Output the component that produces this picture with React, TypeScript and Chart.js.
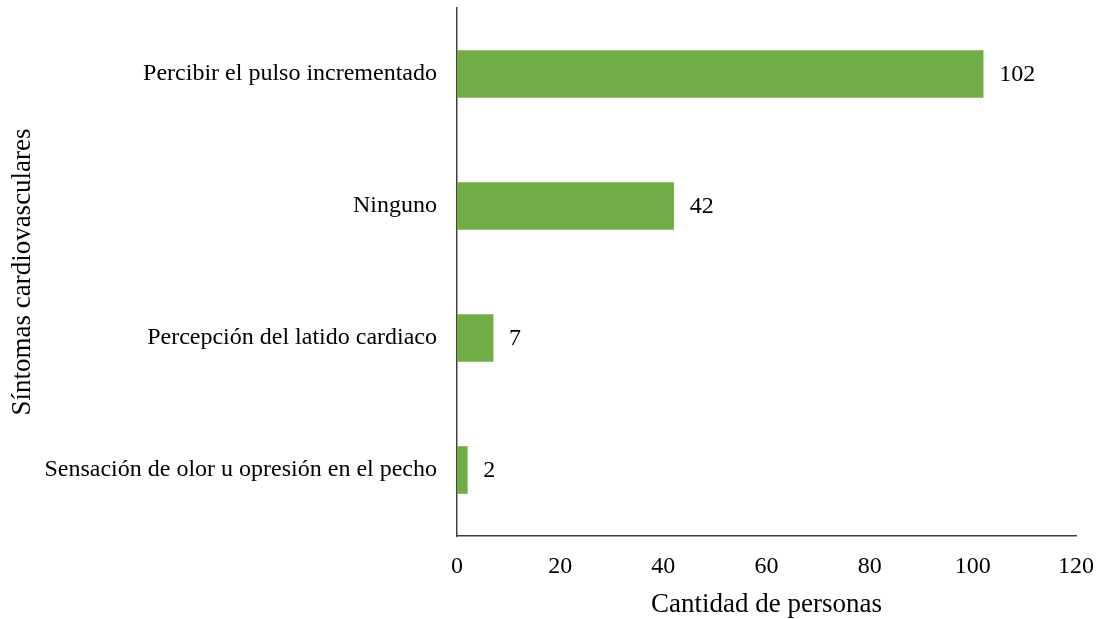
import React, { useEffect, useRef } from "react";
import { Chart, registerables } from "chart.js";

Chart.register(...registerables);

const categories = [
  "Percibir el pulso incrementado",
  "Ninguno",
  "Percepción del latido cardiaco",
  "Sensación de olor u opresión en el pecho",
];
const values = [102, 42, 7, 2];
const xTicks = [0, 20, 40, 60, 80, 100, 120];
const xTitle = "Cantidad de personas";
const yTitle = "Síntomas cardiovasculares";

const FONT = "'Liberation Serif', 'Times New Roman', serif";

const valueLabels = {
  id: "valueLabels",
  afterDatasetsDraw(chart: any) {
    const ctx = chart.ctx;
    const meta = chart.getDatasetMeta(0);
    ctx.save();
    ctx.font = `24px ${FONT}`;
    ctx.fillStyle = "#000";
    ctx.textAlign = "left";
    ctx.textBaseline = "middle";
    meta.data.forEach((bar: any, i: number) => {
      ctx.fillText(String(values[i]), bar.x + 16, bar.y + 1);
    });
    ctx.restore();
  },
};

export default function App() {
  const ref = useRef<HTMLCanvasElement>(null);
  useEffect(() => {
    document.body.style.margin = "0";
    const chart = new Chart(ref.current!, {
      type: "bar",
      data: {
        labels: categories,
        datasets: [
          {
            data: values,
            backgroundColor: "#70AD47",
            barThickness: 47,
          },
        ],
      },
      options: {
        indexAxis: "y",
        animation: false,
        responsive: false,
        maintainAspectRatio: false,
        layout: { padding: { top: 8, right: 25, left: 0, bottom: 0 } },
        plugins: { legend: { display: false }, tooltip: { enabled: false } },
        scales: {
          x: {
            min: 0,
            max: 120,
            afterBuildTicks: (axis: any) => {
              axis.ticks = xTicks.map((v) => ({ value: v }));
            },
            grid: { display: false, drawTicks: false },
            border: { color: "#404040", width: 1.5 },
            ticks: {
              color: "#000",
              font: { family: FONT, size: 24 },
              padding: 16,
              maxRotation: 0,
            },
            title: {
              display: true,
              text: xTitle,
              color: "#000",
              font: { family: FONT, size: 27 },
              padding: { top: 3, bottom: -2 },
            },
            afterFit: (axis: any) => {
              axis.height = 83;
              axis.paddingLeft = 0;
              axis.paddingRight = 0;
            },
          },
          y: {
            grid: { display: false, drawTicks: false },
            border: { color: "#404040", width: 1.5 },
            ticks: {
              color: "#000",
              font: { family: FONT, size: 24 },
              padding: 20,
            },
            title: {
              display: true,
              text: yTitle,
              color: "#000",
              font: { family: FONT, size: 27 },
              padding: { top: 7, bottom: 0 },
            },
            afterFit: (axis: any) => {
              axis.width = 457;
              axis.paddingTop = 0;
              axis.paddingBottom = 0;
            },
          },
        },
      },
      plugins: [valueLabels],
    });
    return () => chart.destroy();
  }, []);
  return (
    <div style={{ position: "absolute", left: 0, top: 0, width: 1101, height: 619 }}>
      <canvas ref={ref} width={1101} height={619} style={{ width: 1101, height: 619 }} />
    </div>
  );
}
